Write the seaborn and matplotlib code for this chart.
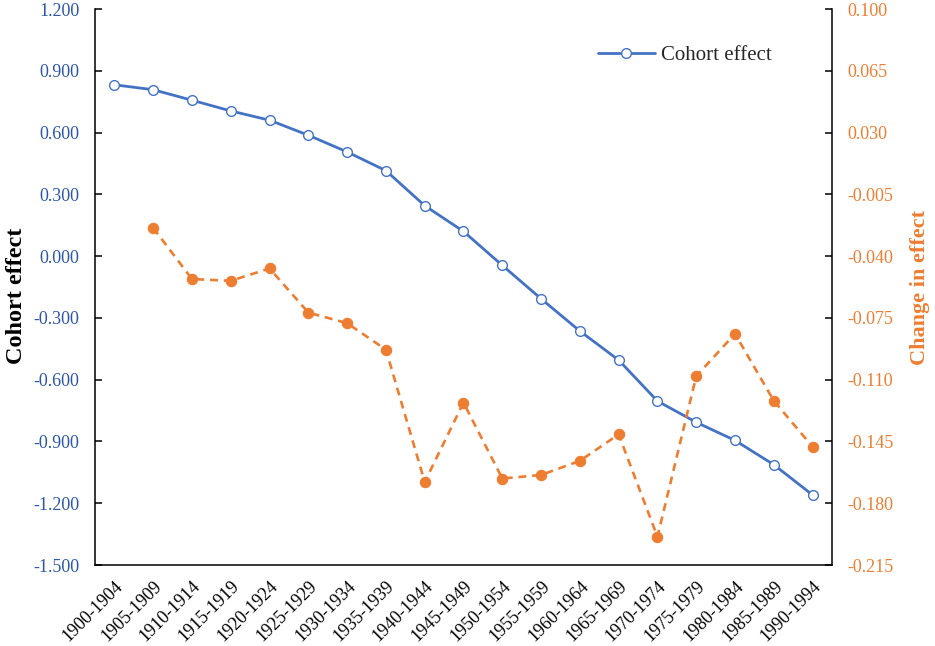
import numpy as np
import pandas as pd
import matplotlib
matplotlib.use("Agg")
import matplotlib.pyplot as plt
import seaborn as sns

categories = ["1900-1904", "1905-1909", "1910-1914", "1915-1919", "1920-1924",
              "1925-1929", "1930-1934", "1935-1939", "1940-1944", "1945-1949",
              "1950-1954", "1955-1959", "1960-1964", "1965-1969", "1970-1974",
              "1975-1979", "1980-1984", "1985-1989", "1990-1994"]
cohort_effect = [0.832, 0.808, 0.757, 0.705, 0.660, 0.587, 0.506, 0.415, 0.245,
                 0.120, -0.045, -0.207, -0.364, -0.505, -0.704, -0.807, -0.895,
                 -1.013, -1.160]
# change in effect starts at 1905-1909
change_categories = categories[1:]
change_in_effect = [-0.024, -0.053, -0.054, -0.047, -0.072, -0.078, -0.093, -0.168,
                    -0.123, -0.166, -0.164, -0.156, -0.141, -0.199, -0.108, -0.084,
                    -0.122, -0.148]
left_ticks = [-1.5, -1.2, -0.9, -0.6, -0.3, 0.0, 0.3, 0.6, 0.9, 1.2]
right_ticks = [-0.215, -0.18, -0.145, -0.11, -0.075, -0.04, -0.005, 0.03, 0.065, 0.1]

BLUE = "#4472C4"
BLUE_TXT = "#2B55A8"
ORANGE = "#ED7D31"

sns.set_style("white")
plt.rcParams["font.family"] = ["Liberation Serif", "DejaVu Serif"]

pos = {c: i for i, c in enumerate(categories)}
df1 = pd.DataFrame({"x": [pos[c] for c in categories], "y": cohort_effect})
df2 = pd.DataFrame({"x": [pos[c] for c in change_categories], "y": change_in_effect})

fig = plt.figure(figsize=(9.35, 6.46), dpi=100)
ax = fig.add_axes([95/935, 1 - 565/646, (832-95)/935, (565-9)/646])
ax2 = ax.twinx()

sns.lineplot(data=df1, x="x", y="y", ax=ax, color=BLUE, linewidth=2.0,
             marker="o", markersize=7, markerfacecolor="white",
             markeredgecolor=BLUE, markeredgewidth=1.0, label="Cohort effect")
sns.lineplot(data=df2, x="x", y="y", ax=ax2, color=ORANGE, linewidth=1.9,
             marker="o", markersize=7.5, markerfacecolor=ORANGE,
             markeredgecolor=ORANGE, linestyle=(0, (3, 2.2)), legend=False)

ax.set_xlim(-0.5, len(categories) - 0.5)
ax.set_ylim(-1.5, 1.2)
ax2.set_ylim(-0.215, 0.1)

ax.set_xticks(range(len(categories)))
ax.set_xticklabels(categories, rotation=45, ha="right", rotation_mode="anchor",
                   fontsize=13, color="black")
ax.set_xticks(np.arange(-0.5, len(categories), 1.0), minor=True)
ax.tick_params(axis="x", which="major", length=0, pad=9)
ax.tick_params(axis="x", which="minor", length=5, width=1.1, direction="in",
               color="black")

ax.set_yticks(left_ticks)
ax.set_yticklabels([f"{v + 0:.3f}" for v in left_ticks], fontsize=13, color=BLUE_TXT)
ax.tick_params(axis="y", length=5, width=1.1, direction="in", pad=11, color="black",
               left=True)

ax2.set_yticks(right_ticks)
ax2.set_yticklabels([f"{v + 0:.3f}" for v in right_ticks], fontsize=13, color=ORANGE)
ax2.tick_params(axis="y", length=5, width=1.1, direction="in", pad=11, color="black",
                right=True)

ax.set_xlabel("")
ax.set_ylabel("Cohort effect", fontsize=17.5, fontweight="bold", color="black", labelpad=6)
ax.yaxis.set_label_coords(-0.092, 0.485)
ax2.set_ylabel("Change in effect", fontsize=16, fontweight="bold", color=ORANGE,
               labelpad=12, rotation=90)
ax2.set_xlabel("")

for a in (ax, ax2):
    a.spines["top"].set_visible(False)
    for s in ("left", "right", "bottom"):
        a.spines[s].set_color("black")
        a.spines[s].set_linewidth(1.1)
    a.grid(False)
ax.spines["right"].set_visible(False)
ax2.spines["left"].set_visible(False)
ax2.spines["bottom"].set_visible(False)

ax.legend(loc="center left", bbox_to_anchor=(0.683, 0.917), frameon=False,
          fontsize=15, handlelength=2.7, handletextpad=0.3, borderpad=0,
          borderaxespad=0)

fig.savefig("out.png", dpi=100, facecolor="white")
